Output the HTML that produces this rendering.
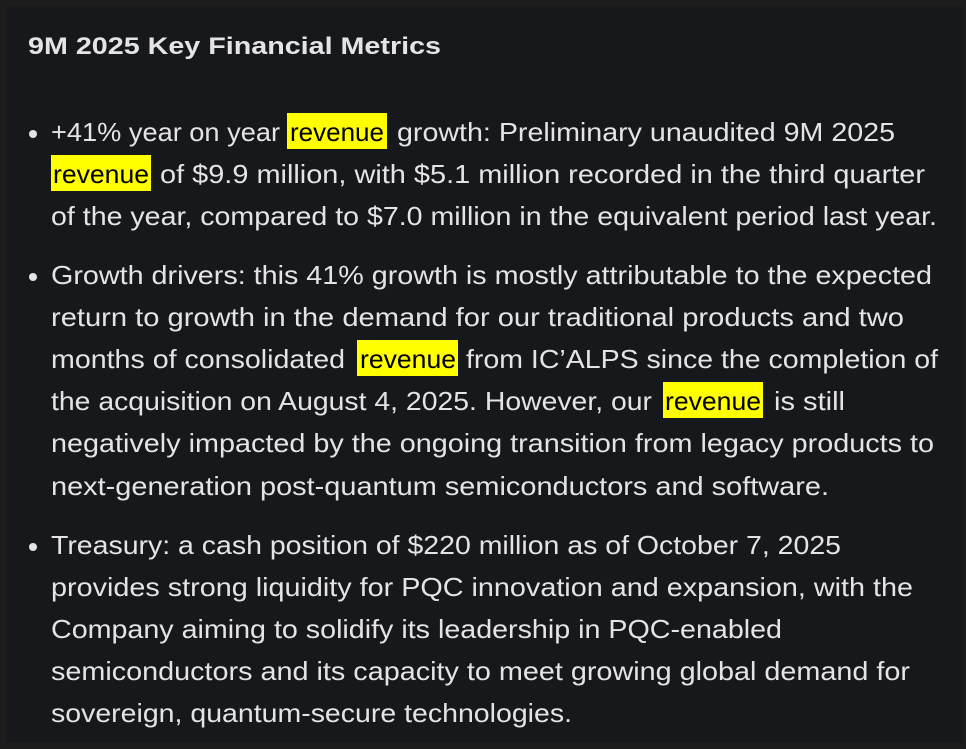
<!DOCTYPE html>
<html><head><meta charset="utf-8"><style>
html,body{margin:0;padding:0;background:#1b1b1b;width:966px;height:749px;overflow:hidden}
svg{display:block}
</style></head><body>
<svg width="966" height="749" xmlns="http://www.w3.org/2000/svg">
<rect x="0" y="0" width="966" height="749" fill="#1c1c1c"/>
<rect x="6" y="6" width="957" height="737" fill="#16181c"/>
<g font-family="Liberation Sans, sans-serif" fill="#e4e4e4">
<text x="28" y="54" font-size="24" font-weight="bold" textLength="413" lengthAdjust="spacingAndGlyphs">9M 2025 Key Financial Metrics</text>
<g fill="#ffff00">
<rect x="287" y="113" width="100" height="36"/>
<rect x="51" y="155" width="100" height="36"/>
<rect x="357" y="340" width="101" height="36"/>
<rect x="663" y="382" width="100" height="36"/>
</g>
<g fill="#e4e4e4">
<circle cx="33" cy="134" r="4"/>
<circle cx="33" cy="277" r="4"/>
<circle cx="33" cy="547" r="4"/>
</g>
<g font-size="26">
<text x="51" y="141" textLength="229" lengthAdjust="spacingAndGlyphs">+41% year on year</text>
<text x="290" y="141" textLength="94" lengthAdjust="spacingAndGlyphs" fill="#000">revenue</text>
<text x="397" y="141" textLength="498" lengthAdjust="spacingAndGlyphs">growth: Preliminary unaudited 9M 2025</text>
<text x="53" y="183" textLength="96" lengthAdjust="spacingAndGlyphs" fill="#000">revenue</text>
<text x="160" y="183" textLength="765" lengthAdjust="spacingAndGlyphs">of $9.9 million, with $5.1 million recorded in the third quarter</text>
<text x="51" y="225" textLength="886" lengthAdjust="spacingAndGlyphs">of the year, compared to $7.0 million in the equivalent period last year.</text>
<text x="51" y="284" textLength="881" lengthAdjust="spacingAndGlyphs">Growth drivers: this 41% growth is mostly attributable to the expected</text>
<text x="51" y="326" textLength="853" lengthAdjust="spacingAndGlyphs">return to growth in the demand for our traditional products and two</text>
<text x="51" y="368" textLength="294" lengthAdjust="spacingAndGlyphs">months of consolidated</text>
<text x="360" y="368" textLength="96" lengthAdjust="spacingAndGlyphs" fill="#000">revenue</text>
<text x="466" y="368" textLength="472" lengthAdjust="spacingAndGlyphs">from IC’ALPS since the completion of</text>
<text x="51" y="410" textLength="601" lengthAdjust="spacingAndGlyphs">the acquisition on August 4, 2025. However, our</text>
<text x="665" y="410" textLength="96" lengthAdjust="spacingAndGlyphs" fill="#000">revenue</text>
<text x="774" y="410" textLength="71" lengthAdjust="spacingAndGlyphs">is still</text>
<text x="51" y="452" textLength="883" lengthAdjust="spacingAndGlyphs">negatively impacted by the ongoing transition from legacy products to</text>
<text x="51" y="495" textLength="778" lengthAdjust="spacingAndGlyphs">next-generation post-quantum semiconductors and software.</text>
<text x="51" y="554" textLength="790" lengthAdjust="spacingAndGlyphs">Treasury: a cash position of $220 million as of October 7, 2025</text>
<text x="51" y="596" textLength="862" lengthAdjust="spacingAndGlyphs">provides strong liquidity for PQC innovation and expansion, with the</text>
<text x="51" y="638" textLength="731" lengthAdjust="spacingAndGlyphs">Company aiming to solidify its leadership in PQC-enabled</text>
<text x="51" y="680" textLength="859" lengthAdjust="spacingAndGlyphs">semiconductors and its capacity to meet growing global demand for</text>
<text x="51" y="722" textLength="521" lengthAdjust="spacingAndGlyphs">sovereign, quantum-secure technologies.</text>
</g>
</g>
</svg>
</body></html>
